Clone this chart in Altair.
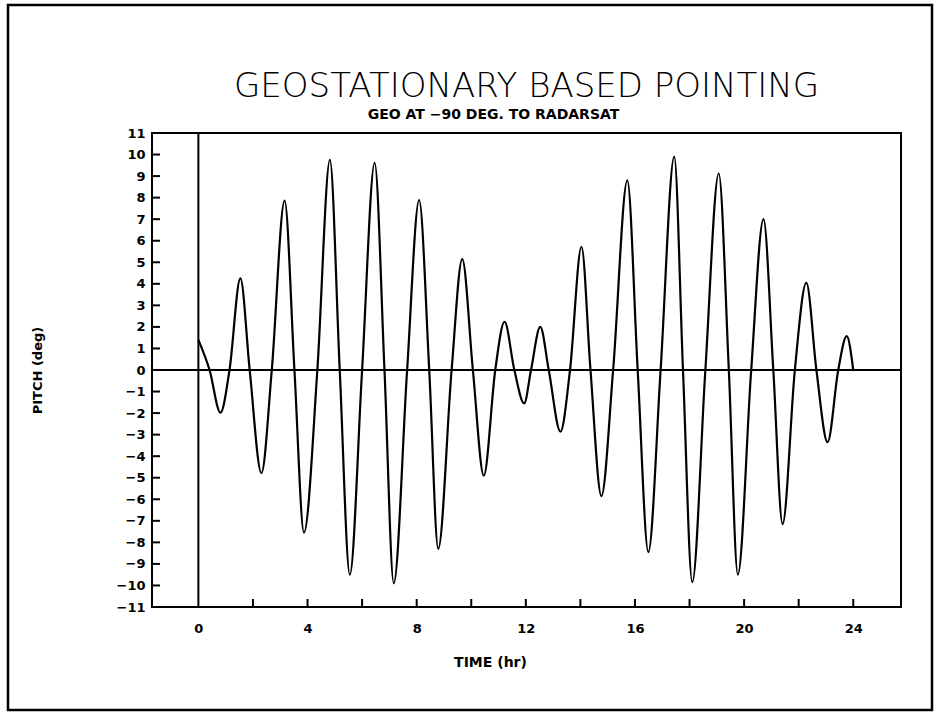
import altair as alt
import pandas as pd

# Extrema and zero crossings of the pitch curve
time_hr = [0.0, 0.41, 0.81, 1.14, 1.54, 1.88, 2.31, 2.69, 3.16, 3.52, 3.87, 4.36,
           4.82, 5.18, 5.55, 6.0, 6.46, 6.82, 7.16, 7.65, 8.09, 8.46, 8.79, 9.28,
           9.67, 10.06, 10.46, 10.88, 11.22, 11.58, 11.94, 12.19, 12.53, 12.84,
           13.27, 13.62, 14.04, 14.37, 14.77, 15.2, 15.72, 16.1, 16.49, 16.94,
           17.44, 17.76, 18.1, 18.58, 19.07, 19.44, 19.77, 20.26, 20.71, 21.07,
           21.41, 21.86, 22.28, 22.65, 23.06, 23.45, 23.76, 24.0]
pitch_deg = [1.4, 0, -1.98, 0, 4.25, 0, -4.78, 0, 7.86, 0, -7.55, 0,
             9.75, 0, -9.5, 0, 9.62, 0, -9.9, 0, 7.89, 0, -8.3, 0,
             5.15, 0, -4.9, 0, 2.24, 0, -1.55, 0, 2.0, 0,
             -2.86, 0, 5.72, 0, -5.85, 0, 8.8, 0, -8.45, 0,
             9.9, 0, -9.85, 0, 9.12, 0, -9.5, 0, 7.0, 0,
             -7.15, 0, 4.05, 0, -3.35, 0, 1.57, 0]

x_label_values = [0, 4, 8, 12, 16, 20, 24]
x_tick_values = [2, 4, 6, 8, 10, 12, 14, 16, 18, 20, 22, 24]
y_values = list(range(-11, 12))
y_tick_values = list(range(-10, 11))

W, H = 749, 474
PAD_L, PAD_T = 152, 133

curve_df = pd.DataFrame({"t": time_hr, "p": pitch_deg})
xt_df = pd.DataFrame({"t": x_tick_values})
yt_df = pd.DataFrame({"p": y_tick_values})
zero_df = pd.DataFrame({"v": [0]})

xscale = alt.Scale(domain=[-1.7, 25.75], nice=False, zero=False)
yscale = alt.Scale(domain=[-11, 11], nice=False, zero=False)

LABEL_FONT = "DejaVu Sans"

x_axis = alt.Axis(
    orient="bottom",
    values=x_label_values, format="d", grid=False, domain=False, ticks=False,
    tickSize=0, labelPadding=15, labelFont=LABEL_FONT, labelFontWeight="bold",
    labelFontSize=13, labelColor="black", labelFlush=False, labelOverlap=False,
    title="TIME (hr)", titleFont=LABEL_FONT, titleFontWeight="bold",
    titleFontSize=14, titleColor="black", titleX=338, titleY=48,
    titleAlign="center", titleBaseline="top",
)
y_axis = alt.Axis(
    orient="left",
    values=y_values, format="d", grid=False, domain=False, ticks=False,
    tickSize=0, labelPadding=7, labelFont=LABEL_FONT, labelFontWeight="bold",
    labelFontSize=13, labelColor="black", labelFlush=False, labelOverlap=False,
    title="PITCH (deg)", titleFont=LABEL_FONT, titleFontWeight="bold",
    titleFontSize=13, titleColor="black", titleX=-115, titleY=H / 2,
    titleAlign="center", titleBaseline="middle", titleAngle=270,
)
top_axis = alt.Axis(
    orient="top", labels=False, ticks=False, domain=False, grid=False,
    title="GEO AT \u221290 DEG. TO RADARSAT", titleFont=LABEL_FONT,
    titleFontWeight="bold", titleFontSize=14, titleColor="black",
    titleX=341, titleY=-15, titleAlign="center", titleBaseline="alphabetic",
)

curve = alt.Chart(curve_df).mark_line(
    color="black", strokeWidth=2.2, interpolate="monotone"
).encode(
    x=alt.X("t:Q", scale=xscale, axis=x_axis),
    y=alt.Y("p:Q", scale=yscale, axis=y_axis),
)

vline = alt.Chart(zero_df).mark_rule(color="black", strokeWidth=2).encode(
    x=alt.X("v:Q", scale=xscale, axis=top_axis),
)
hline = alt.Chart(zero_df).mark_rule(color="black", strokeWidth=2).encode(
    y=alt.Y("v:Q", scale=yscale, axis=None),
)
xticks = alt.Chart(xt_df).mark_rule(color="black", strokeWidth=2).encode(
    x=alt.X("t:Q", scale=xscale, axis=None),
    y=alt.value(H), y2=alt.value(H - 8),
)
yticks = alt.Chart(yt_df).mark_rule(color="black", strokeWidth=2).encode(
    y=alt.Y("p:Q", scale=yscale, axis=None),
    x=alt.value(0), x2=alt.value(8),
)
frame = alt.Chart(zero_df).mark_rect(
    filled=False, fillOpacity=0, stroke="black", strokeWidth=2.5, clip=False
).encode(
    x=alt.value(8 - PAD_L), x2=alt.value(932 - PAD_L),
    y=alt.value(5 - PAD_T), y2=alt.value(710 - PAD_T),
)

chart = alt.layer(curve, hline, vline, xticks, yticks, frame).resolve_axis(
    x="independent", y="independent"
).properties(
    width=W, height=H,
    background="white",
    title=alt.TitleParams(
        "GEOSTATIONARY BASED POINTING", anchor="middle", frame="group",
        font=LABEL_FONT, fontSize=34, fontWeight=200, color="black",
        baseline="alphabetic", offset=10, dy=137,
    ),
    autosize=alt.AutoSizeParams(type="none"),
    padding={"left": PAD_L, "top": PAD_T, "right": 939 - PAD_L - W,
             "bottom": 720 - PAD_T - H},
).configure_view(
    stroke="black", strokeWidth=2
)

chart.save("out.html", embed_options={"renderer": "svg", "actions": False})
